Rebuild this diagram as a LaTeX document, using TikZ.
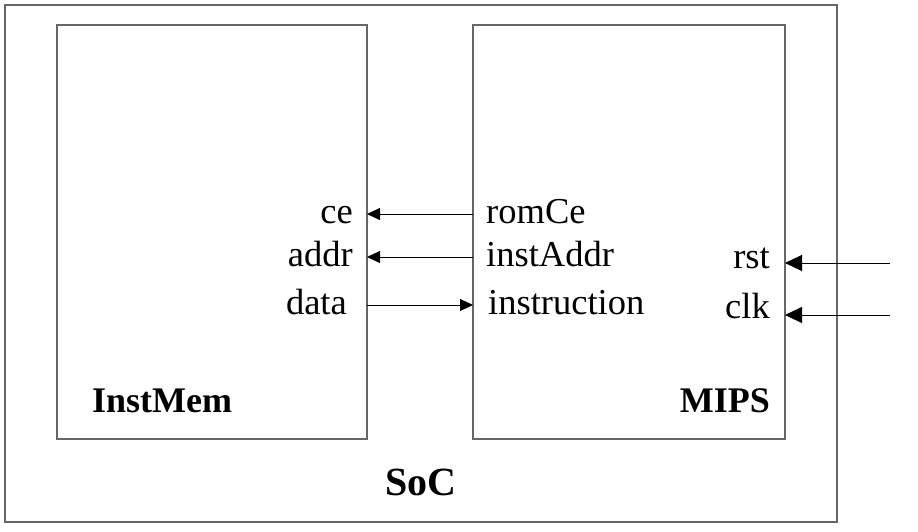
\documentclass[tikz,border=0pt]{standalone}
\usepackage{fontspec}
\setmainfont{Liberation Serif}
\usetikzlibrary{arrows.meta,fit}
\begin{document}
\begin{tikzpicture}[x=1pt,y=-1pt,
 box/.style={draw=black!60, line width=1.4pt, inner sep=0pt, outer sep=0pt},
 lbl/.style={font=\fontsize{36.5}{40}\selectfont, inner sep=0pt},
 ttl/.style={font=\fontsize{36}{40}\selectfont\bfseries, inner sep=0pt},
 sig/.style={line width=1pt, -{Triangle[length=13pt,width=12pt]}},
 ext/.style={line width=1pt, -{Triangle[length=17pt,width=16pt]}}]
\useasboundingbox (0,0) rectangle (918,532);
\node[box, fit={(5,5) (837,522)}] (soc) {};
\node[box, fit={(57,25) (367,439)}] (instmem) {};
\node[box, fit={(473,25) (785,439)}] (mips) {};
% signal rows
\coordinate (yce) at (0,214);
\coordinate (yaddr) at (0,257);
\coordinate (ydata) at (0,305);
\coordinate (yrst) at (890,263);
\coordinate (yclk) at (890,315);
% labels
\node[lbl, anchor=base east] (ce) at (353,223) {ce};
\node[lbl, anchor=base east] (addr) at (353,266) {addr};
\node[lbl, anchor=base east] (data) at (347,314) {data};
\node[lbl, anchor=base west] (romce) at (486,223) {romCe};
\node[lbl, anchor=base west] (instaddr) at (486,266) {instAddr};
\node[lbl, anchor=base west] (instruction) at (488,314) {instruction};
\node[lbl, anchor=base east] (rst) at (770,268) {rst};
\node[lbl, anchor=base east] (clk) at (770,318) {clk};
\node[ttl, anchor=base west] (imname) at (92,412) {InstMem};
\node[ttl, anchor=base east] (mipsname) at (770,412) {MIPS};
\node[font=\fontsize{40}{44}\selectfont\bfseries, inner sep=0pt, anchor=base west] (socname) at (385,495) {SoC};
% connectors
\draw[sig] (mips.west |- yce) -- (instmem.east |- yce);
\draw[sig] (mips.west |- yaddr) -- (instmem.east |- yaddr);
\draw[sig] (instmem.east |- ydata) -- (mips.west |- ydata);
\draw[ext] (yrst) -- (mips.east |- yrst);
\draw[ext] (yclk) -- (mips.east |- yclk);
\end{tikzpicture}
\end{document}
